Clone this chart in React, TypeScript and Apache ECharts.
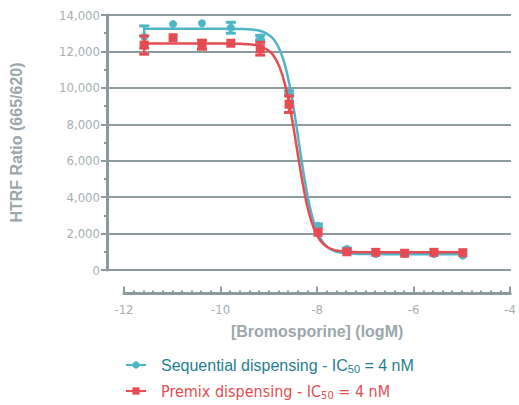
import React, { useEffect, useRef } from 'react';
import * as echarts from 'echarts';

// Measured points (log M concentration, 4-fold dilutions)
const logConc = [-11.62, -11.02, -10.42, -9.82, -9.21, -8.61, -8.01, -7.41, -6.81, -6.21, -5.6, -5.0];
const seqMean = [12800, 13500, 13550, 13300, 12760, 9735, 2430, 1150, 880, 880, 880, 790];
const seqErr = [600, 0, 0, 300, 120, 100, 100, 50, 0, 0, 0, 0];
const preMean = [12350, 12750, 12370, 12450, 12150, 9100, 2070, 1000, 970, 920, 970, 950];
const preErr = [500, 0, 250, 0, 350, 450, 0, 0, 0, 0, 0, 0];

// Fitted curves
const curveX = [-11.62, -10.0, -9.6, -9.4, -9.2, -9.0, -8.9, -8.8, -8.7, -8.6, -8.5, -8.4, -8.3, -8.2, -8.1, -8.0, -7.9, -7.8, -7.7, -7.6, -7.4, -7.2, -7.0, -6.0, -5.0];
const seqFit = [13250, 13249, 13237, 13209, 13120, 12849, 12554, 12064, 11287, 10144, 8628, 6883, 5162, 3716, 2649, 1938, 1494, 1229, 1074, 986, 907, 882, 875, 870, 870];
const preFit = [12430, 12430, 12415, 12382, 12279, 11966, 11630, 11081, 10233, 9031, 7518, 5881, 4369, 3167, 2319, 1769, 1434, 1235, 1121, 1055, 997, 979, 974, 970, 970];

const seqName = 'Sequential dispensing';
const preName = 'Premix dispensing';
const xTitle = '[Bromosporine] (logM)';
const yTitle = 'HTRF Ratio (665/620)';

const TEAL = '#4db6c6';
const TEAL_TEXT = '#1f7f8e';
const RED = '#e64b51';
const AXIS = '#8c9a9e';
const LABEL = '#a6afb2';
const TITLE = '#9aa7ab';
const NARROW = "'Liberation Sans Narrow', 'DejaVu Sans Condensed', sans-serif";
const SANS = "'Liberation Sans', Arial, sans-serif";

function errRender(color: string) {
  return (params: any, api: any) => {
    const x = api.value(0);
    const y = api.value(1);
    const e = api.value(2);
    const top = api.coord([x, y + e]);
    const bot = api.coord([x, y - e]);
    const hw = 5;
    return {
      type: 'group',
      children: [
        { type: 'line', shape: { x1: top[0], y1: top[1], x2: bot[0], y2: bot[1] }, style: { stroke: color, lineWidth: 2.5 } },
        { type: 'line', shape: { x1: top[0] - hw, y1: top[1], x2: top[0] + hw, y2: top[1] }, style: { stroke: color, lineWidth: 3 } },
        { type: 'line', shape: { x1: bot[0] - hw, y1: bot[1], x2: bot[0] + hw, y2: bot[1] }, style: { stroke: color, lineWidth: 3 } },
      ],
    };
  };
}

const legendRich = {
  a: { color: TEAL_TEXT, fontSize: 16, fontFamily: SANS },
  as: { color: TEAL_TEXT, fontSize: 11, fontFamily: SANS, padding: [8, 0, 0, 0] },
  b: { color: RED, fontSize: 16, fontFamily: NARROW },
  bs: { color: RED, fontSize: 11, fontFamily: NARROW, padding: [8, 0, 0, 0] },
};

function legendFor(name: string, top: number) {
  return {
    orient: 'vertical',
    left: 125,
    top,
    padding: 0,
    itemWidth: 20,
    itemHeight: 9,
    data: [name],
    formatter: (n: string) =>
      n === seqName
        ? '{a|Sequential dispensing - IC}{as|50}{a| = 4 nM}'
        : '{b|Premix dispensing - IC}{bs|50}{b| = 4 nM}',
    textStyle: { padding: [0, 0, 0, 10], rich: legendRich },
  };
}

export default function App() {
  const ref = useRef<HTMLDivElement>(null);
  useEffect(() => {
    const chart = echarts.init(ref.current!, null, { renderer: 'svg' });
    const seqPts = logConc.map((x, i) => [x, seqMean[i]]);
    const prePts = logConc.map((x, i) => [x, preMean[i]]);
    const seqErrData = logConc.map((x, i) => [x, seqMean[i], seqErr[i]]).filter((d) => d[2] > 0);
    const preErrData = logConc.map((x, i) => [x, preMean[i], preErr[i]]).filter((d) => d[2] > 0);
    const option: any = {
      animation: false,
      grid: [
        { left: 105, right: 8, top: 15, bottom: 135 },
        { left: 124, right: 8, top: 200, bottom: 111.5 },
      ],
      legend: [legendFor(seqName, 357), legendFor(preName, 383)],
      xAxis: [
        { gridIndex: 0, type: 'value', min: -12.393, max: -4, show: false },
        {
          gridIndex: 1,
          type: 'value',
          min: -12,
          max: -4,
          interval: 2,
          position: 'bottom',
          axisLine: { show: true, lineStyle: { color: AXIS, width: 3 } },
          axisTick: { show: true, inside: true, length: 7, lineStyle: { color: AXIS, width: 2 } },
          minorTick: { show: true, splitNumber: 10, length: 3, lineStyle: { color: AXIS, width: 2 } },
          splitLine: { show: false },
          axisLabel: { color: LABEL, fontSize: 13, margin: 9, fontFamily: NARROW },
          name: xTitle,
          nameLocation: 'middle',
          nameGap: 30,
          nameTextStyle: { color: TITLE, fontSize: 16, fontWeight: 'bold', fontFamily: SANS },
        },
      ],
      yAxis: [
        {
          gridIndex: 0,
          type: 'value',
          min: 0,
          max: 14000,
          interval: 2000,
          axisLine: { show: true, lineStyle: { color: AXIS, width: 3 } },
          axisTick: { show: true, length: 6, lineStyle: { color: AXIS, width: 2 } },
          minorTick: { show: true, splitNumber: 2, length: 3, lineStyle: { color: AXIS, width: 2 } },
          splitLine: { show: true, lineStyle: { color: AXIS, width: 2 } },
          axisLabel: {
            color: LABEL,
            fontSize: 13,
            margin: 7,
            fontFamily: NARROW,
            formatter: (v: number) => v.toLocaleString('en-US'),
          },
          name: yTitle,
          nameLocation: 'middle',
          nameRotate: 90,
          nameGap: 83,
          nameTextStyle: { color: TITLE, fontSize: 16, fontWeight: 'bold', fontFamily: SANS },
        },
        { gridIndex: 1, type: 'value', min: 0, max: 1, show: false },
      ],
      series: [
        {
          name: seqName,
          type: 'line',
          xAxisIndex: 0,
          yAxisIndex: 0,
          data: curveX.map((x, i) => [x, seqFit[i]]),
          smooth: 0.4,
          showSymbol: false,
          symbol: 'circle',
          symbolSize: 8,
          itemStyle: { color: TEAL },
          lineStyle: { color: TEAL, width: 2.5 },
          z: 2,
        },
        {
          name: 'seqErr',
          type: 'custom',
          xAxisIndex: 0,
          yAxisIndex: 0,
          data: seqErrData,
          renderItem: errRender(TEAL),
          z: 3,
        },
        {
          name: 'seqPts',
          type: 'scatter',
          xAxisIndex: 0,
          yAxisIndex: 0,
          data: seqPts,
          symbol: 'circle',
          symbolSize: 8,
          itemStyle: { color: TEAL, opacity: 1 },
          z: 4,
        },
        {
          name: preName,
          type: 'line',
          xAxisIndex: 0,
          yAxisIndex: 0,
          data: curveX.map((x, i) => [x, preFit[i]]),
          smooth: 0.4,
          showSymbol: false,
          symbol: 'rect',
          symbolSize: 9,
          itemStyle: { color: RED },
          lineStyle: { color: RED, width: 2.5 },
          z: 5,
        },
        {
          name: 'preErr',
          type: 'custom',
          xAxisIndex: 0,
          yAxisIndex: 0,
          data: preErrData,
          renderItem: errRender(RED),
          z: 6,
        },
        {
          name: 'prePts',
          type: 'scatter',
          xAxisIndex: 0,
          yAxisIndex: 0,
          data: prePts,
          symbol: 'rect',
          symbolSize: 9,
          itemStyle: { color: RED, opacity: 1 },
          z: 7,
        },
      ],
    };
    chart.setOption(option);
    return () => chart.dispose();
  }, []);
  return (
    <div
      ref={ref}
      style={{ width: 519, height: 405, position: 'absolute', left: 0, top: 0, background: '#fff' }}
    />
  );
}
